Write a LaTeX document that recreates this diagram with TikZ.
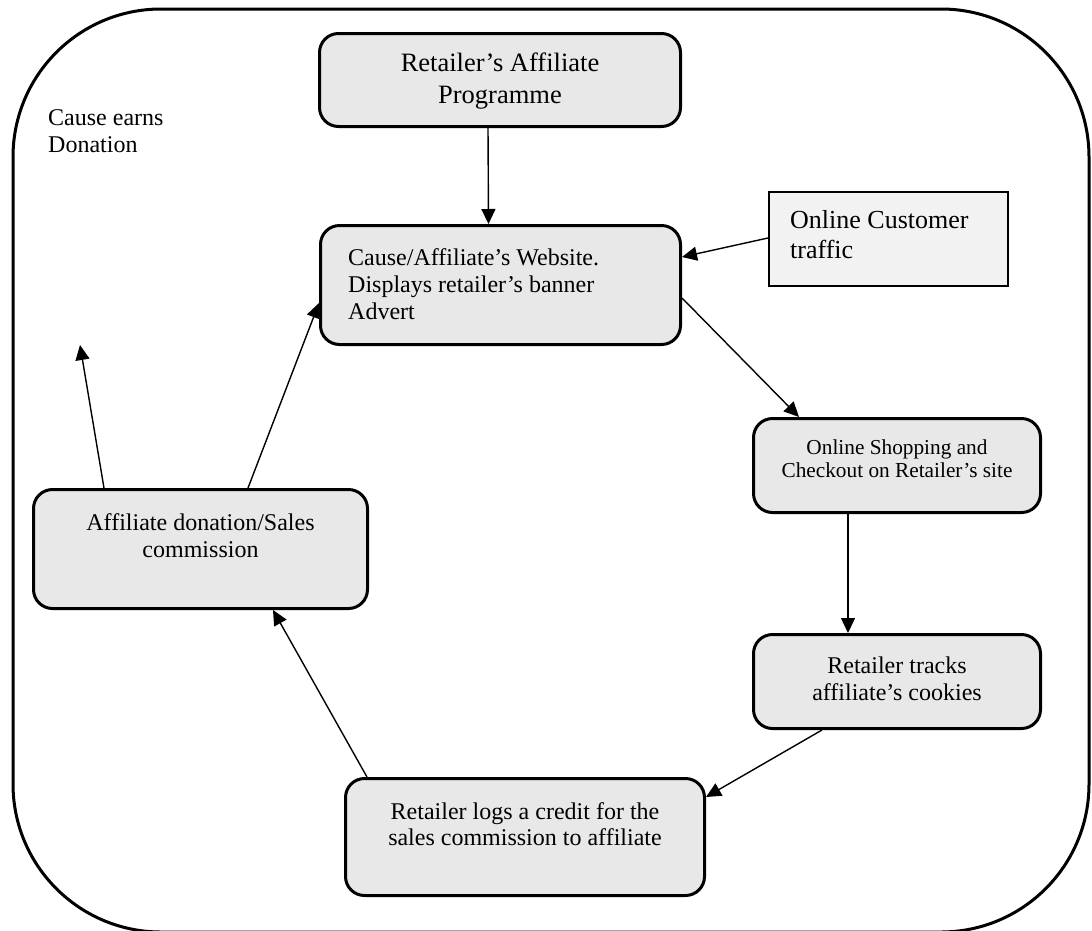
\documentclass[tikz,border=0pt]{standalone}
\usepackage{fontspec}
\setmainfont{Liberation Serif}
\usetikzlibrary{arrows.meta}

\definecolor{boxgray}{HTML}{E8E8E8}
\definecolor{notegray}{HTML}{F2F2F2}

\tikzset{
  stagebox/.style={draw, line width=3pt, rounded corners=19pt, fill=boxgray, inner sep=0pt},
  notebox/.style={draw, line width=2pt, fill=notegray, inner sep=0pt},
  txt/.style={inner sep=0pt, align=center, font=\fontsize{24}{27}\selectfont},
  flow/.style={line width=1.4pt, -{Triangle[length=15pt,width=14pt]}}
}

\begin{document}
\begin{tikzpicture}[x=1pt, y=-1pt]
  \useasboundingbox (0,0) rectangle (1092,930);

  % outer frame
  \draw[line width=3pt, rounded corners=148pt] (13,9) rectangle (1089,932);

  % process boxes
  \node[stagebox, minimum width=361pt, minimum height=93pt] (prog) at (500,80) {};
  \node[stagebox, minimum width=360pt, minimum height=119pt] (web) at (500.5,285) {};
  \node[stagebox, minimum width=287pt, minimum height=94pt] (shop) at (897,465.5) {};
  \node[stagebox, minimum width=287pt, minimum height=94pt] (track) at (897,681.5) {};
  \node[stagebox, minimum width=359pt, minimum height=117pt] (logs) at (525,837) {};
  \node[stagebox, minimum width=334pt, minimum height=119pt] (comm) at (200.5,549) {};
  \node[notebox, minimum width=239pt, minimum height=94pt] (traffic) at (888.5,239) {};

  % box texts
  \node[txt, font=\fontsize{26.5}{32}\selectfont] (prog-t) at (500,81) {Retailer’s Affiliate\\Programme};
  \node[txt, anchor=west, align=left] (web-t) at (348,284) {Cause/Affiliate’s Website.\\Displays retailer’s banner\\Advert};
  \node[txt, font=\fontsize{21.3}{23}\selectfont] (shop-t) at (897,459) {Online Shopping and\\Checkout on Retailer’s site};
  \node[txt] (track-t) at (897,678.5) {Retailer tracks\\affiliate’s cookies};
  \node[txt, font=\fontsize{24}{26}\selectfont] (logs-t) at (525,824) {Retailer logs a credit for the\\sales commission to affiliate};
  \node[txt] (comm-t) at (200.5,535.5) {Affiliate donation/Sales\\commission};
  \node[txt, anchor=west, align=left, font=\fontsize{26}{30}\selectfont] (traffic-t) at (790,235) {Online Customer\\traffic};
  \node[txt, anchor=west, align=left] (cause-t) at (48,131.5) {Cause earns\\Donation};
  \coordinate (gift) at (80,345);

  % connectors
  \draw[flow] ([xshift=-12pt]prog.south) -- ([xshift=-12pt]web.north);
  \draw[flow] ([yshift=1pt]traffic.west) -- ([yshift=28pt]web.east);
  \draw[flow] ([yshift=-13pt]web.east) -- ([xshift=-98pt]shop.north);
  \draw[flow] ([xshift=-49pt]shop.south) -- ([xshift=-49pt]track.north);
  \draw[flow] ([xshift=-75pt]track.south) -- ([yshift=40pt]logs.east);
  \draw[flow] ([xshift=-158pt]logs.north) -- ([xshift=72.5pt]comm.south);
  \draw[flow] ([xshift=47.5pt]comm.north) -- ([yshift=-18pt]web.west);
  \draw[flow] ([xshift=-96.5pt]comm.north) -- (gift);
\end{tikzpicture}
\end{document}
